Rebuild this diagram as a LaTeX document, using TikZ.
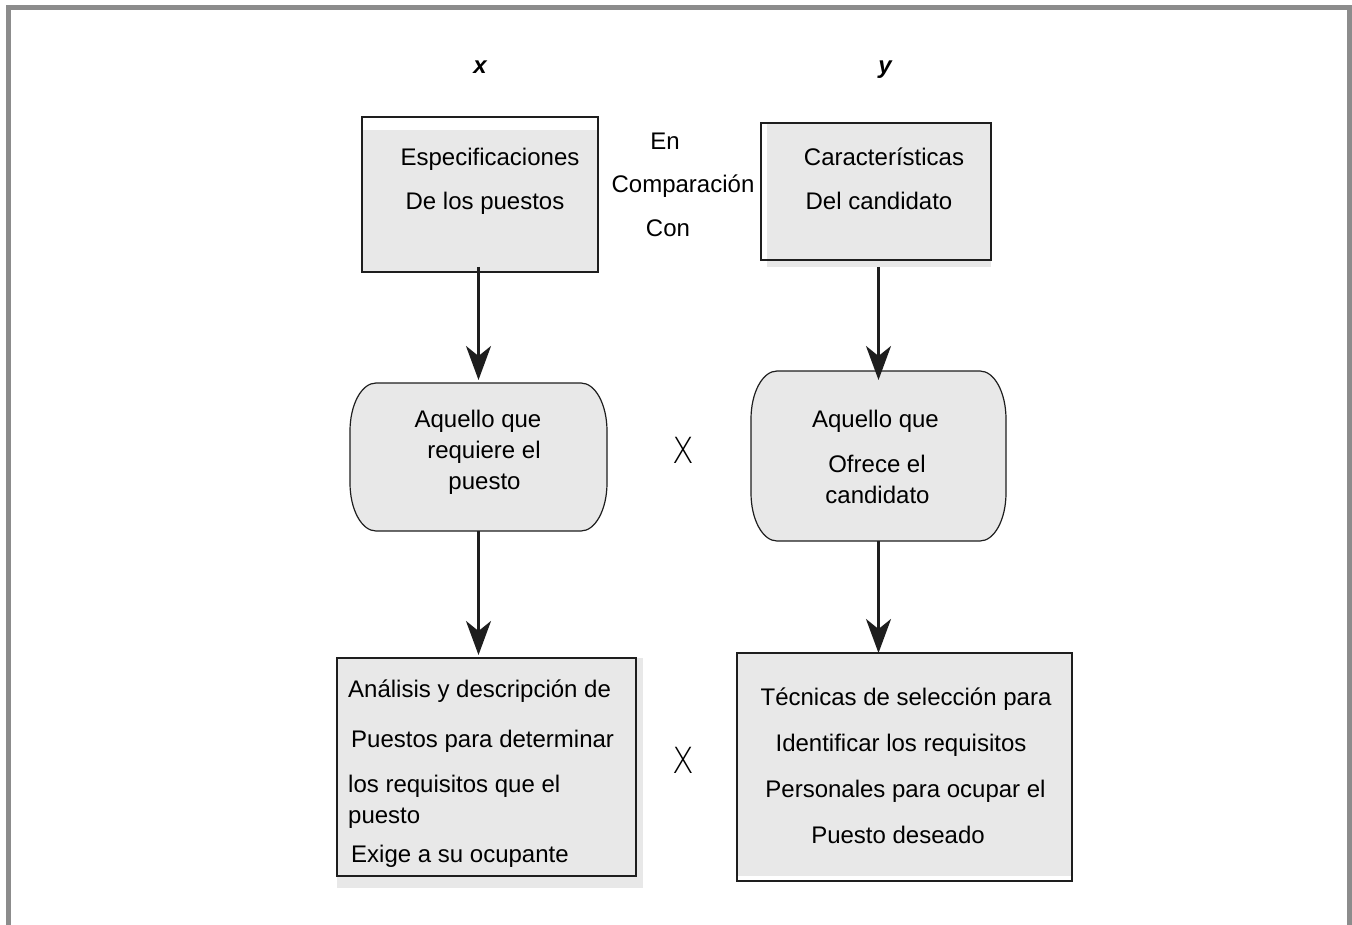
\documentclass[tikz,border=0pt]{standalone}
\usepackage{fontspec}
\setmainfont{Liberation Sans}
\IfFontExistsTF{DejaVu Sans ExtraLight}
  {\newfontfamily\thinfont{DejaVu Sans ExtraLight}}
  {\newcommand{\thinfont}{\sffamily}}
\usetikzlibrary{arrows.meta, positioning, calc}
\definecolor{boxFill}{HTML}{E8E8E8}
\definecolor{frameGray}{HTML}{8C8C8C}
\definecolor{lineDark}{HTML}{1E1E1E}

% box with elliptic corners round an empty node
\newcommand{\capsule}[1]{%
  \filldraw[capfill] ($(#1.north west)+(26,0)$) -- ($(#1.north east)+(-26,0)$)
    arc[start angle=90, end angle=0, x radius=26, y radius=48]
    -- ($(#1.south east)+(0,48)$)
    arc[start angle=0, end angle=-90, x radius=26, y radius=48]
    -- ($(#1.south west)+(26,0)$)
    arc[start angle=270, end angle=180, x radius=26, y radius=48]
    -- ($(#1.north west)+(0,-48)$)
    arc[start angle=180, end angle=90, x radius=26, y radius=48] -- cycle;}

\begin{document}
\begin{tikzpicture}[x=1pt, y=1pt,
    every node/.style={font=\fontsize{24}{28}\selectfont},
    box/.style={draw=lineDark, line width=1.2pt, inner sep=0pt, outer sep=0pt},
    capfill/.style={fill=boxFill, draw=lineDark, line width=1.2pt},
    txt/.style={anchor=base, inner sep=0pt},
    cross/.style={font=\thinfont\fontsize{36}{40}\selectfont, inner sep=0pt},
    link/.style={line width=2.5pt, draw=lineDark, -{Stealth[length=34pt, width=25pt, inset=10pt]}}]
  \useasboundingbox (0,0) rectangle (1352,-925);
  % frame, open at the bottom
  \draw[frameGray, line width=5pt] (8.5,-925) -- (8.5,-7.5) -- (1349.5,-7.5) -- (1349.5,-925);

  % fills, a little off the borders
  \fill[boxFill] (362,-130) rectangle (598,-272);
  \fill[boxFill] (767,-124) rectangle (991,-267);
  \fill[boxFill] (337,-658) rectangle (643,-888);
  \fill[boxFill] (737,-653) rectangle (1072,-876);

  \node[box, minimum width=236pt, minimum height=155pt] (spec) at (480,-194.5) {};
  \node[box, minimum width=230pt, minimum height=137pt] (cand) at (876,-191.5) {};
  \node[inner sep=0pt, outer sep=0pt, minimum width=257pt, minimum height=148pt] (req) at (478.5,-457) {};
  \node[inner sep=0pt, outer sep=0pt, minimum width=255pt, minimum height=170pt] (offer) at (878.5,-456) {};
  \capsule{req}
  \capsule{offer}
  \node[box, minimum width=299pt, minimum height=218pt] (anal) at (486.5,-767) {};
  \node[box, minimum width=335pt, minimum height=228pt] (tech) at (904.5,-767) {};

  % arrows
  \draw[link, shorten <=-5pt, shorten >=3pt] (spec.south -| req.north) -- (req.north);
  \draw[link, shorten >=3pt] (req.south) -- (req.south |- anal.north);
  \draw[link, shorten <=7pt, shorten >=-9pt] (cand.south -| offer.north) -- (offer.north);
  \draw[link] (offer.south) -- (offer.south |- tech.north);

  % texts
  \node[txt] (lx) at (480,-74) {\bfseries\itshape x};
  \node[txt] (ly) at (885,-74) {\bfseries\itshape y};
  \foreach \tx/\ty/\s [count=\k] in {490/166/Especificaciones, 485/210/De los puestos}
    \node[txt] (spec\k) at (\tx,-\ty) {\s};
  \foreach \tx/\ty/\s [count=\k] in {665/150/En, 683/193/Comparación, 668/237/Con}
    \node[txt] (cmp\k) at (\tx,-\ty) {\s};
  \foreach \tx/\ty/\s [count=\k] in {884/166/Características, 879/210/Del candidato}
    \node[txt] (cand\k) at (\tx,-\ty) {\s};
  \foreach \tx/\ty/\s [count=\k] in {478/427/Aquello que, 484/458/requiere el, 484.5/489/puesto}
    \node[txt] (req\k) at (\tx,-\ty) {\s};
  \foreach \tx/\ty/\s [count=\k] in {875.5/427/Aquello que, 877/472/Ofrece el, 877.5/503/candidato}
    \node[txt] (offer\k) at (\tx,-\ty) {\s};
  \foreach \tx/\ty/\s [count=\k] in {348/697/Análisis y descripción de, 351/747/Puestos para determinar,
      348/792/los requisitos que el, 348/823/puesto, 351/862/Exige a su ocupante}
    \node[txt, anchor=base west] (anal\k) at (\tx,-\ty) {\s};
  \foreach \tx/\ty/\s [count=\k] in {906/705/Técnicas de selección para, 901/751/Identificar los requisitos,
      905.5/797/Personales para ocupar el, 898/843/Puesto deseado}
    \node[txt] (tech\k) at (\tx,-\ty) {\s};
  \node[cross] (xm1) at (683,-450) {\scalebox{0.88}[1]{X}};
  \node[cross] (xm2) at (683,-760) {\scalebox{0.88}[1]{X}};
\end{tikzpicture}
\end{document}
